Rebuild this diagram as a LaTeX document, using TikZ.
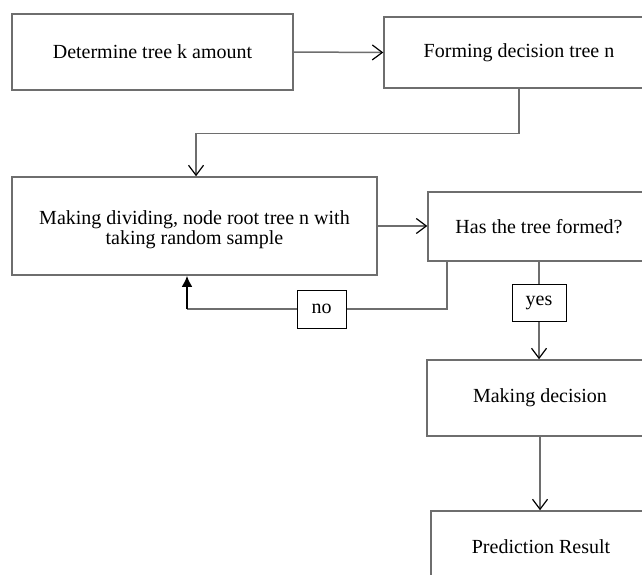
\documentclass[tikz,border=0pt]{standalone}
\usepackage{fontspec}
\setmainfont{Liberation Serif}
\usetikzlibrary{arrows.meta}
\definecolor{boxgrey}{HTML}{6E6E6E}
\tikzset{
  box/.style={draw=boxgrey, line width=1.5pt, fill=white, rectangle, inner sep=0pt, align=center,
    font=\fontsize{20}{20}\selectfont},
  tag/.style={draw=black, line width=1pt, fill=white, rectangle, inner sep=0pt,
    font=\fontsize{20}{20}\selectfont},
  link/.style={draw=boxgrey, line width=1.5pt},
  flow/.style={link, -{Straight Barb[black, length=10pt, width=15pt, line width=1.2pt]}},
  backflow/.style={draw=black, line width=2.2pt, -{Latex[black, length=11pt, width=11pt]}}
}
\begin{document}
\begin{tikzpicture}[x=1pt,y=-1pt]
\useasboundingbox (0,0) rectangle (642,575);
\clip (0,0) rectangle (642,575);
\fill[white] (0,0) rectangle (642,575);
\node[box, minimum width=281pt, minimum height=76pt] (b1) at (152.5,52) {Determine tree k amount};
\node[box, minimum width=270pt, minimum height=71pt] (b2) at (519,52.5) {Forming decision tree n};
\node[box, minimum width=365pt, minimum height=98pt, text height=41pt] (b3) at (194.5,226) {Making dividing, node root tree n with\\taking random sample};
\node[box, minimum width=222pt, minimum height=69pt] (b4) at (539,226.5) {Has the tree formed?};
\node[box, minimum width=226pt, minimum height=76pt] (b5) at (540,398) {Making decision};
\node[box, minimum width=220pt, minimum height=72pt] (b6) at (541,547) {Prediction Result};
\node[tag, minimum width=49pt, minimum height=38pt] (no) at (321.5,309) {no};
\node[tag, minimum width=54pt, minimum height=37pt] (yes) at (539,302.5) {yes};
% connectors
\draw[flow] (b1.east) -- (b2.west);
\draw[flow] (b2.south) -- ++(0,44.5) -| ([xshift=1.5pt]b3.north);
\draw[flow] (b3.east) -- (b3.east -| b4.west);
\draw[link] ([xshift=-92pt]b4.south) |- (no.east);
\coordinate (corner) at ([xshift=-7.5pt]b3.south |- no.west);
\draw[link] (no.west) -- (corner);
\draw[backflow] (corner) -- ([xshift=-7.5pt]b3.south);
\draw[link] (b4.south) -- (yes.north);
\draw[flow] (yes.south) -- ([xshift=-1pt]b5.north);
\draw[flow] (b5.south) -- (b5.south |- b6.north);
\end{tikzpicture}
\end{document}
